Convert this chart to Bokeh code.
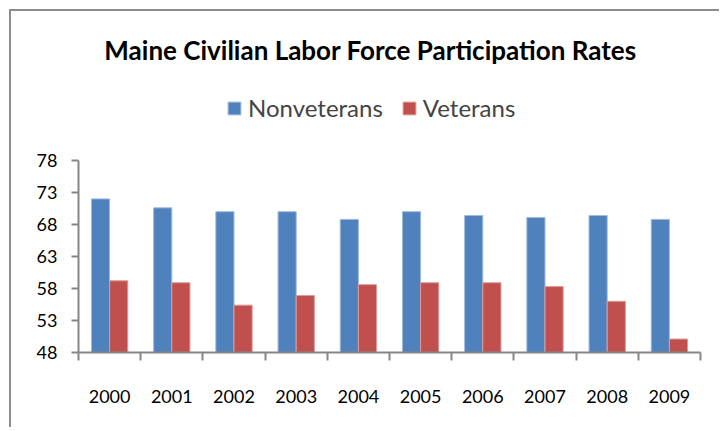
from bokeh.plotting import figure
from bokeh.models import (Range1d, LinearAxis, FixedTicker,
                          ColumnDataSource, Legend, LegendItem, Label)
from bokeh.transform import dodge
from bokeh.embed import file_html
from bokeh.resources import INLINE

years = ["2000", "2001", "2002", "2003", "2004", "2005", "2006", "2007", "2008", "2009"]
nonveterans = [72.0, 70.6, 70.0, 70.0, 68.8, 70.0, 69.4, 69.1, 69.4, 68.8]
veterans = [59.2, 58.9, 55.4, 56.9, 58.6, 58.9, 58.9, 58.3, 56.0, 50.1]
y_ticks = [48, 53, 58, 63, 68, 73, 78]
title_text = "Maine Civilian Labor Force Participation Rates"

# category slots: one unit per year, centres at i + 0.5
centers = [i + 0.5 for i in range(len(years))]
edges = list(range(len(years) + 1))

src = ColumnDataSource(dict(xc=centers, years=years, nonveterans=nonveterans, veterans=veterans))

FONT = "Lato"
AXIS_COLOR = "#868686"

# frame extends above the value axis so that title and legend are drawn inside it
Y_MIN, Y_MAX = y_ticks[0], y_ticks[-1]
FRAME_TOP = 99.72

p = figure(x_range=Range1d(0, len(years)), y_range=Range1d(Y_MIN, FRAME_TOP),
           width=710, height=418, output_backend="svg", toolbar_location=None,
           x_axis_location=None, y_axis_location=None,
           min_border_left=67, min_border_right=21, min_border_top=10, min_border_bottom=77)
p.styles = {"border-top": "2px solid #8c8c8c", "border-left": "2px solid #8c8c8c",
            "margin-top": "9px", "margin-left": "9px"}
p.xgrid.visible = False
p.ygrid.visible = False
p.outline_line_color = None
p.background_fill_color = "white"
p.border_fill_color = "white"

r1 = p.vbar(x=dodge("xc", -0.146), top="nonveterans", bottom=Y_MIN,
            width=0.292, source=src, fill_color="#4F81BD", line_color="#9fb9dc", line_width=1)
r2 = p.vbar(x=dodge("xc", 0.146), top="veterans", bottom=Y_MIN,
            width=0.292, source=src, fill_color="#C0504D", line_color="#dc9a98", line_width=1)

# y axis
yax = LinearAxis(ticker=FixedTicker(ticks=y_ticks, minor_ticks=[]), bounds=(Y_MIN, Y_MAX))
yax.axis_line_color = AXIS_COLOR
yax.axis_line_width = 2
yax.major_tick_line_color = AXIS_COLOR
yax.major_tick_line_width = 2
yax.major_tick_in = 0
yax.major_tick_out = 7
yax.minor_tick_line_color = None
yax.major_label_standoff = 14
yax.major_label_text_font = FONT
yax.major_label_text_font_size = "18px"
yax.major_label_text_color = "black"
p.add_layout(yax, "left")

# x axis line with ticks at category boundaries
edge_ax = LinearAxis(ticker=FixedTicker(ticks=edges, minor_ticks=[]))
edge_ax.axis_line_color = AXIS_COLOR
edge_ax.axis_line_width = 2
edge_ax.major_tick_line_color = AXIS_COLOR
edge_ax.major_tick_line_width = 2
edge_ax.major_tick_in = 0
edge_ax.major_tick_out = 8
edge_ax.minor_tick_line_color = None
edge_ax.major_label_text_font_size = "1px"
edge_ax.major_label_text_alpha = 0
edge_ax.major_label_standoff = 0
p.add_layout(edge_ax, "below")

# category labels at slot centres
cax = LinearAxis(ticker=FixedTicker(ticks=centers, minor_ticks=[]),
                 major_label_overrides={c: y for c, y in zip(centers, years)})
cax.axis_line_color = None
cax.major_tick_line_color = None
cax.minor_tick_line_color = None
cax.major_label_standoff = 23
cax.major_label_text_font = FONT
cax.major_label_text_font_size = "18px"
cax.major_label_text_color = "black"
p.add_layout(cax, "below")

# title
p.add_layout(Label(x=5, y=95.34, x_offset=-19, text=title_text, text_align="center",
                   text_baseline="middle", text_font=FONT, text_font_size="26px",
                   text_font_style="bold", text_color="black"))

legend = Legend(items=[LegendItem(label="Nonveterans", renderers=[r1]),
                       LegendItem(label="Veterans", renderers=[r2])],
                orientation="horizontal", location=(148, 230), padding=0, margin=0,
                border_line_color=None, background_fill_alpha=0,
                label_text_font=FONT, label_text_font_size="24px",
                glyph_width=16, glyph_height=16, label_standoff=6, spacing=18)
p.add_layout(legend)

open("out.html", "w").write(file_html(p, INLINE))
